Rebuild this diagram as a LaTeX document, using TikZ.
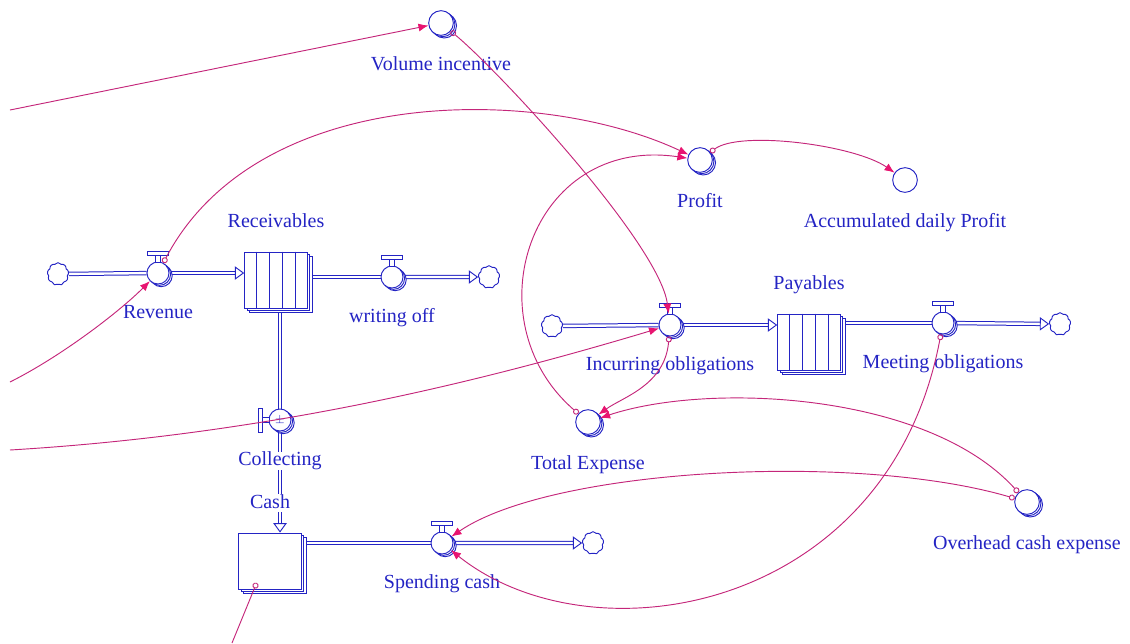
\documentclass[tikz,border=0pt]{standalone}
\usepackage{fontspec}
\setmainfont{Liberation Serif}
\usetikzlibrary{positioning}
\usetikzlibrary{arrows.meta}
\usetikzlibrary{shapes.symbols}
\usetikzlibrary{shadows}
\usetikzlibrary{backgrounds}
\usetikzlibrary{calc}

\definecolor{flowblue}{RGB}{36,36,196}
\definecolor{linkpink}{RGB}{196,38,122}
\definecolor{tippink}{RGB}{232,20,112}

\tikzset{
every label/.style={ % names under and over the icons
font=\fontsize{15}{17}\selectfont,
text=flowblue,
fill=white,
inner sep=0pt,
text height=10.5pt,
text depth=3.2pt},
stock/.style={ % boxes, stacked
rectangle, draw=flowblue, fill=white, line width=0.7pt,
minimum width=47pt, minimum height=42pt, inner sep=0pt,
label distance=9pt,
double copy shadow={shadow xshift=1.8pt, shadow yshift=-1.8pt, draw=flowblue}},
valve/.style={
circle, draw=flowblue, fill=white, line width=0.7pt,
minimum size=16.5pt, inner sep=0pt,
double copy shadow={shadow xshift=1.2pt, shadow yshift=-1pt, draw=flowblue}},
aux/.style={
circle, draw=flowblue, fill=white, line width=0.7pt,
minimum size=18.5pt, inner sep=0pt,
double copy shadow={shadow xshift=1.2pt, shadow yshift=-1pt, draw=flowblue}},
auxplain/.style={
circle, draw=flowblue, fill=white, line width=0.7pt,
minimum size=18.5pt, inner sep=0pt},
cloudnode/.style={
cloud, cloud puffs=9, cloud puff arc=110, aspect=1,
draw=flowblue, fill=white, line width=0.7pt,
minimum width=16pt, minimum height=17pt, inner sep=0pt},
handle/.style={draw=flowblue, fill=white, line width=0.7pt},
pipe/.style={ % double flow line
draw=flowblue, line width=0.75pt, double=white, double distance=1.8pt},
pipetip/.style={-{Triangle[length=7pt, width=10pt, line width=0.7pt, fill=white]}},
link/.style={ % information arrows
draw=linkpink, line width=0.7pt,
{Circle[open, length=4.5pt, width=4.5pt]}-{Latex[length=7.5pt, width=6pt, color=tippink]}},
link in/.style={link, -{Latex[length=7.5pt, width=6pt, color=tippink]}},
link out/.style={link, {Circle[open, length=4.5pt, width=4.5pt]}-}}

\begin{document}
\begin{tikzpicture}[x=0.75pt, y=-0.75pt, label distance=15pt]
\useasboundingbox (0,0) rectangle (1130,643);

% stocks
\node[stock, label=above:Receivables] (rcv) at (276,280) {};
\node[stock, label=above:Payables] (pay) at (809,342) {};
\node[stock, label=above:Cash] (cash) at (270,561) {};

% flows
\node[valve, label=below:Revenue] (rev) at (158,273) {};
\node[valve, label=below:writing off] (wof) at (392,277) {};
\node[valve, font=\fontsize{9}{9}\selectfont, text=flowblue, label=below:Collecting] (col) at (280,420) {$\pm$};
\node[valve, label=below:Incurring obligations] (inc) at (670,325) {};
\node[valve, label=below:Meeting obligations] (meet) at (943,323) {};
\node[valve, label=below:Spending cash] (spend) at (442,543) {};

% converters
\node[aux, label=below:Volume incentive] (volinc) at (441,23) {};
\node[aux, label=below:Profit] (profit) at (700,160) {};
\node[auxplain, label=below:Accumulated daily Profit] (accum) at (905,180) {};
\node[aux, label=below:Total Expense] (totexp) at (588,422) {};
\node[aux, label=below:Overhead cash expense] (overhead) at (1027,502) {};

% sources and sinks
\node[cloudnode] (srcR) at (58,274) {};
\node[cloudnode] (sinkW) at (489,277) {};
\node[cloudnode] (srcI) at (552,326) {};
\node[cloudnode] (sinkM) at (1060,324) {};
\node[cloudnode] (sinkS) at (593,543) {};

% loose ends at the border
\coordinate (inA) at (10,110);
\coordinate (inB) at (10,382);
\coordinate (inC) at (10,450);
\coordinate (outD) at (232,643);

% conveyor slats
\foreach \s in {rcv, pay}
  \foreach \k in {1,...,4}
    \draw[flowblue, line width=0.7pt] ($(\s.north west)!\k/5!(\s.north east)$) -- ($(\s.south west)!\k/5!(\s.south east)$);

% valve handles
\foreach \v in {rev, wof, inc, meet, spend}
  \draw[handle] ([shift={(-1.8pt,8pt)}]\v.center) rectangle ([shift={(1.8pt,13pt)}]\v.center)
                ([shift={(-8pt,13pt)}]\v.center) rectangle ([shift={(8pt,16pt)}]\v.center);
\draw[handle] ([shift={(-13pt,-1.8pt)}]col.center) rectangle ([shift={(-8pt,1.8pt)}]col.center)
              ([shift={(-16pt,-9pt)}]col.center) rectangle ([shift={(-13pt,9pt)}]col.center);

% pipes
\begin{scope}[on background layer]
\draw[pipe] (srcR) -- (rev);
\draw[pipe, pipetip] (rev) -- (rev -| rcv.west);
\draw[pipe] (rcv.east |- wof) -- (wof);
\draw[pipe, pipetip] (wof) -- (sinkW);
\draw[pipe] (col |- rcv.south) -- (col);
\draw[pipe, pipetip] (col) -- (col |- cash.north);
\draw[pipe] (srcI) -- (inc);
\draw[pipe, pipetip] (inc) -- (inc -| pay.west);
\draw[pipe] (pay.east |- meet) -- (meet);
\draw[pipe, pipetip] (meet) -- (sinkM);
\draw[pipe] (cash.east |- spend) -- (spend);
\draw[pipe, pipetip] (spend) -- (sinkS);
\end{scope}

% connectors
\draw[link in] (inA) -- (volinc);
\draw[link] (volinc) .. controls +(60,50) and +(-10,-80) .. (inc);
\draw[link] (rev) .. controls +(100,-190) and +(-160,-75) .. (profit);
\draw[link in] (inB) .. controls +(50,-25) and +(-40,40) .. (rev);
\draw[link in] (inC) .. controls +(250,-15) and +(-200,60) .. (inc);
\draw[link] (totexp) .. controls +(-118,-102) and +(-170,-25) .. (profit);
\draw[link] (inc) .. controls +(-5,60) and +(35,-25) .. (totexp);
\draw[link] (profit) .. controls +(40,-30) and +(-50,-35) .. (accum);
\draw[link] (overhead) .. controls +(-100,-110) and +(120,-40) .. (totexp);
\draw[link] (overhead) .. controls +(-170,-50) and +(110,-75) .. (spend);
\draw[link] (meet) .. controls +(-55,290) and +(150,120) .. (spend);
\draw[link out] ([xshift=-10pt, yshift=5pt]cash.south) -- (outD);
\end{tikzpicture}
\end{document}
